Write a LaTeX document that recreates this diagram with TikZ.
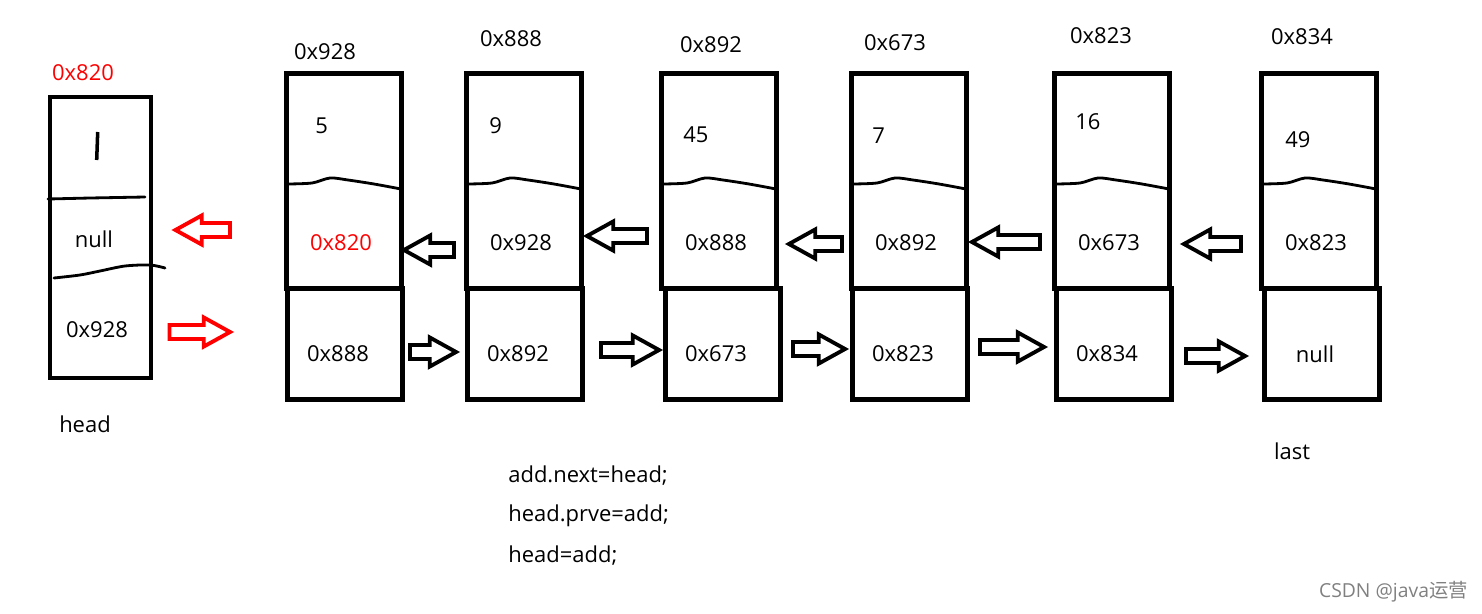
\documentclass[tikz,border=0pt]{standalone}
\usepackage{fontspec}
\setmainfont{Open Sans}
\newfontfamily\cjk{Noto Sans CJK SC}
\usetikzlibrary{calc}

% hollow block arrow, horizontal: \blockarrow[colour]{(tail)}{(tip)}
\newcommand{\blockarrow}[3][black]{%
  \draw[blockarr,draw=#1] let \p1=#2, \p2=#3, \p3=($(\x2,\y1)!15pt!(\p1)$) in
    (\x1,\y1+4pt) -- (\x3,\y1+4pt) -- (\x3,\y1+8.3pt) -- (\x2,\y1)
    -- (\x3,\y1-8.3pt) -- (\x3,\y1-4pt) -- (\x1,\y1-4pt) -- cycle;}

\tikzset{
  box/.style={draw,line width=2.8pt,minimum width=2.3cm,inner sep=0pt},
  wave/.style={line width=1.6pt,line cap=round},
  blockarr/.style={line width=2.2pt,line join=miter},
  txt/.style={inner sep=0pt},
}

\begin{document}
\begin{tikzpicture}[x=0.02cm,y=-0.02cm,font=\fontsize{12.5}{15}\selectfont]
\useasboundingbox (0,0) rectangle (1482,613);

% head node
\node[box,minimum width=2.02cm,minimum height=5.62cm] (head) at (100.5,237.5) {};
\draw[wave] (48,199) -- (90,198) -- (145,197);
\draw[wave] plot[smooth] coordinates {(54,278) (80,275) (100,271) (125,266) (150,265) (165,268)};
\draw[line width=2pt] (97.7,132) -- (96.7,160);
\node[txt,text=red] (headadr) at (83,73) {0x820};
\node[txt] (headprv) at (94,239) {null};
\node[txt] (headnxt) at (97,330) {0x928};
\node[txt] (headlbl) at (85,424) {head};

% list nodes
\foreach \i/\ux/\lx/\adr/\ax/\ay/\val/\vx/\vy/\prv/\nxt/\pcol in {
  1/344/345/0x928/-19/52/5/28/126/0x820/0x888/red,
  2/524/525/0x888/-13/39/9/22/126/0x928/0x892/black,
  3/719/723/0x892/-8/45/45/21/135/0x888/0x673/black,
  4/909/910/0x673/-14/43/7/20/136/0x892/0x823/black,
  5/1112/1114/0x823/-11/36/16/20/122/0x673/0x834/black,
  6/1319/1322/0x834/-17/37/49/23/140/0x823/null/black}{
  \node[box,minimum height=4.3cm] (u\i) at (\ux,181) {};
  \node[box,minimum height=2.22cm] (l\i) at (\lx,344) {};
  \draw[wave] plot[smooth] coordinates {(\ux-57,184) (\ux-32,183) (\ux-14,178) (\ux+4,180) (\ux+30,184) (\ux+57,189)};
  \node[txt] (adr\i) at (\ux+\ax,\ay) {\adr};
  \node[txt,anchor=west] (val\i) at (\ux-57+\vx,\vy) {\val};
  \node[txt,text=\pcol] (prv\i) at (\ux-3,243) {\prv};
  \node[txt] (nxt\i) at (\lx-7,354) {\nxt};
}
\node[txt] (last) at (1292,451) {last};

% red arrows at head
\blockarrow[red]{($(u1.west)+(-54,49)$)}{($(head.east)+(22,-7.5)$)}
\blockarrow[red]{($(head.east)+(16,94.5)$)}{($(u1.west)+(-54,151)$)}

% prev arrows
\foreach \a/\b/\dy/\ga/\gb in {1/2/69/0/10, 2/3/55/3/12, 3/4/63/10/7, 4/5/61/3/12, 5/6/63/12/18}
  \blockarrow{($(u\b.west)+(-\gb,\dy)$)}{($(u\a.east)+(\ga,\dy)$)};

% next arrows
\foreach \a/\b/\dy/\ga/\gb in {1/2/8/5/9, 2/3/6/16/4, 3/4/5/10/5, 4/5/3/10/10, 5/6/12/12/17}
  \blockarrow{($(l\a.east)+(\ga,\dy)$)}{($(l\b.west)+(-\gb,\dy)$)};

% code
\node[txt,anchor=west] (code1) at (508,476) {add.next=head;};
\node[txt,anchor=west] (code2) at (508,516) {head.prve=add;};
\node[txt,anchor=west] (code3) at (508,556) {head=add;};

\node[txt,anchor=east,text=gray,font=\fontsize{11}{13}\selectfont] (mark) at (1468,592) {CSDN @java{\cjk 运营}};
\end{tikzpicture}
\end{document}
